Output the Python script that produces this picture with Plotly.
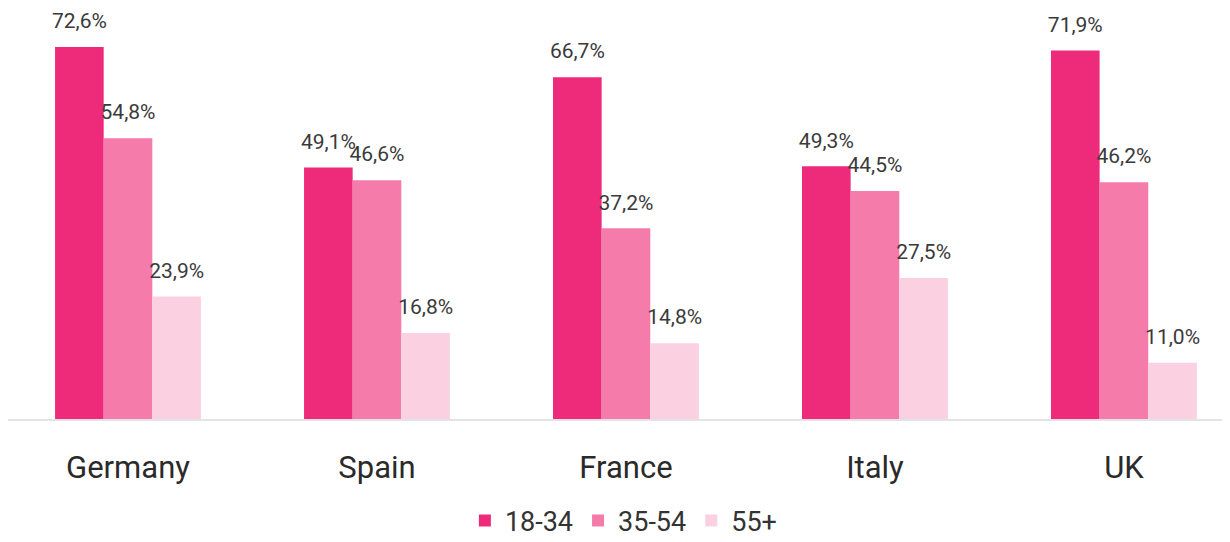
import plotly.graph_objects as go

countries = ["Germany", "Spain", "France", "Italy", "UK"]
groups = ["18-34", "35-54", "55+"]
age_18_34 = [72.6, 49.1, 66.7, 49.3, 71.9]
age_35_54 = [54.8, 46.6, 37.2, 44.5, 46.2]
age_55 = [23.9, 16.8, 14.8, 27.5, 11.0]

colors = ["#EE2A7B", "#F57BAB", "#FBD1E1"]
series = [age_18_34, age_35_54, age_55]

fig = go.Figure()
for name, vals, col in zip(groups, series, colors):
    fig.add_trace(go.Bar(x=countries, y=vals, name=name, marker=dict(color=col, line_width=0),
                         offsetgroup=name, hoverinfo="skip"))
# value labels sit a bit above the bars, hidden marker pushes them up
for name, vals in zip(groups, series):
    fig.add_trace(go.Scatter(x=countries, y=vals, mode="markers+text", offsetgroup=name,
                             text=[f"{v:.1f}%".replace(".", ",") for v in vals],
                             textposition="top center", marker=dict(size=20, opacity=0),
                             textfont=dict(family="Roboto", size=21, color="#3a3a3a"),
                             cliponaxis=False, showlegend=False, hoverinfo="skip"))

# page body has an 8px margin, so the figure is sized to the visible part
fig.update_layout(
    barmode="group", bargap=0.414, bargroupgap=0,
    scattermode="group", scattergap=0.414,
    width=1222, height=534,
    margin=dict(l=0, r=0, t=0, b=123, autoexpand=False),
    plot_bgcolor="white", paper_bgcolor="white",
    font=dict(family="Roboto", color="#333333"),
    legend=dict(orientation="h", x=0.504, xanchor="center", y=-0.248, yanchor="middle",
                font=dict(size=27, color="#333333"), itemwidth=30, tracegroupgap=0),
    showlegend=True,
)
fig.update_xaxes(range=[-0.482, 4.426], showgrid=False, showline=True, linecolor="#E3E3E3",
                 linewidth=2, ticks="", tickfont=dict(size=31, color="#2a2a2a"),
                 ticklabelstandoff=20, automargin=False)
fig.update_yaxes(range=[0, 80.2], visible=False)

fig.write_html("out.html")
